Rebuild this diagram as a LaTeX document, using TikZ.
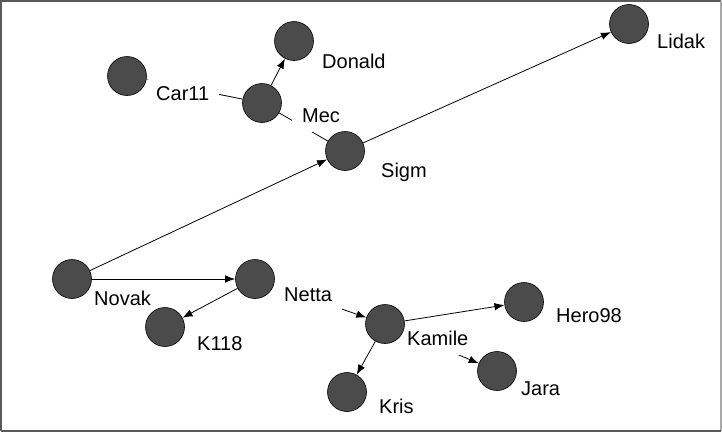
\documentclass[tikz,border=0pt]{standalone}
\usepackage{fontspec}
\setmainfont{Liberation Sans}
\usetikzlibrary{arrows.meta}
\definecolor{actorfill}{HTML}{4B4B4B}
\definecolor{framedark}{HTML}{5A5A5A}
\definecolor{framelight}{HTML}{A8A8A8}
\pgfdeclarelayer{edges}
\pgfdeclarelayer{labels}
\pgfsetlayers{edges,labels,main}
\tikzset{
  actor/.style={circle, minimum size=39pt, inner sep=0pt, fill=actorfill, draw=black, line width=0.6pt},
  tie/.style={draw=black, line width=0.8pt},
  arc/.style={tie, -{Latex[length=10pt,width=7.5pt]}},
  name label/.style={anchor=base west, fill=white, inner xsep=10pt, inner ysep=6pt,
    text height=14.4pt, text depth=4pt, font=\fontsize{20}{22}\selectfont}
}
\begin{document}
\begin{tikzpicture}[x=1pt, y=-1pt]
\useasboundingbox (0,0) rectangle (722,432);
% frame
\draw[framedark, line width=2pt] (1,431) -- (1,1) -- (721,1);
\draw[framelight, line width=1.5pt] (721,1) -- (721,431);
\draw[framedark, line width=1.5pt] (1,431) -- (721,431);

% actors
\node[actor] (car) at (127,76) {};
\node[actor] (donald) at (294,41) {};
\node[actor] (mec) at (262,103) {};
\node[actor] (sigm) at (345,151) {};
\node[actor] (lidak) at (629,24) {};
\node[actor] (novak) at (72,279) {};
\node[actor] (netta) at (255,279) {};
\node[actor] (k118) at (165,327) {};
\node[actor] (kamile) at (385,324) {};
\node[actor] (hero) at (524,302) {};
\node[actor] (jara) at (497,371) {};
\node[actor] (kris) at (347,392) {};

% ties
\begin{pgfonlayer}{edges}
\draw[tie] (car) -- (mec);
\draw[arc] (mec) -- (donald);
\draw[tie] (sigm) -- (mec);
\draw[arc] (novak) -- (sigm);
\draw[arc] (sigm) -- (lidak);
\draw[arc] (novak) -- (netta);
\draw[arc] (netta) -- (k118);
\draw[arc] (netta) -- (kamile);
\draw[arc] (kamile) -- (hero);
\draw[arc] (kamile) -- (jara);
\draw[arc] (kamile) -- (kris);
\end{pgfonlayer}

% names
\begin{pgfonlayer}{labels}
\node[name label] (lcar) at (146,100) {Car11};
\node[name label] (ldonald) at (312,68) {Donald};
\node[name label] (lmec) at (292,122) {Mec};
\node[name label] (lsigm) at (371,177) {Sigm};
\node[name label] (llidak) at (647,48) {Lidak};
\node[name label] (lnovak) at (84,305) {Novak};
\node[name label] (lnetta) at (274,301) {Netta};
\node[name label] (lk118) at (187,350) {K118};
\node[name label] (lkamile) at (397,345) {Kamile};
\node[name label] (lhero) at (546,322) {Hero98};
\node[name label] (ljara) at (511,395) {Jara};
\node[name label] (lkris) at (369,413) {Kris};
\end{pgfonlayer}
\end{tikzpicture}
\end{document}
